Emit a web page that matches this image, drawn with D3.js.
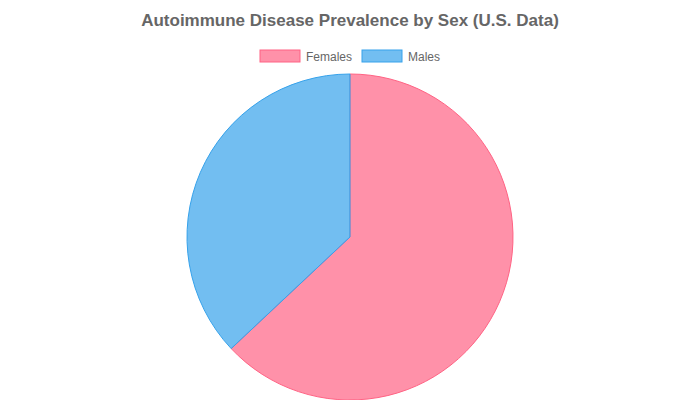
<!DOCTYPE html>
<html><head><meta charset="utf-8">
<script src="https://cdn.jsdelivr.net/npm/d3@7"></script>
<style>body{margin:0;background:#fff}svg{font-family:"Liberation Sans",Arial,sans-serif}</style>
</head><body><svg id="chart" width="700" height="400"></svg>
<script>
// chart data
var labels = ["Females", "Males"];
var values = [63, 37];
var fills = ["rgba(255,99,132,0.7)", "rgba(54,162,235,0.7)"];
var strokes = ["rgb(255,99,132)", "rgb(54,162,235)"];

var svg = d3.select("#chart");

svg.append("text")
  .attr("x", 350).attr("y", 26)
  .attr("text-anchor", "middle")
  .attr("font-size", 17).attr("font-weight", "bold")
  .attr("fill", "#666")
  .text("Autoimmune Disease Prevalence by Sex (U.S. Data)");

// legend
var legend = svg.append("g");
var lx = [260, 362];
labels.forEach(function (l, i) {
  legend.append("rect")
    .attr("x", lx[i]).attr("y", 50).attr("width", 40).attr("height", 12)
    .attr("fill", fills[i]).attr("stroke", strokes[i]).attr("stroke-width", 1);
  legend.append("text")
    .attr("x", lx[i] + 46).attr("y", 60.5)
    .attr("font-size", 12).attr("fill", "#666")
    .text(l);
});

var pie = d3.pie().sort(null)(values);
var arc = d3.arc().innerRadius(0).outerRadius(163);

svg.append("g").attr("transform", "translate(350,237)")
  .selectAll("path").data(pie).enter().append("path")
  .attr("d", arc)
  .attr("fill", function (d, i) { return fills[i]; })
  .attr("stroke", function (d, i) { return strokes[i]; })
  .attr("stroke-width", 1);
</script></body></html>
